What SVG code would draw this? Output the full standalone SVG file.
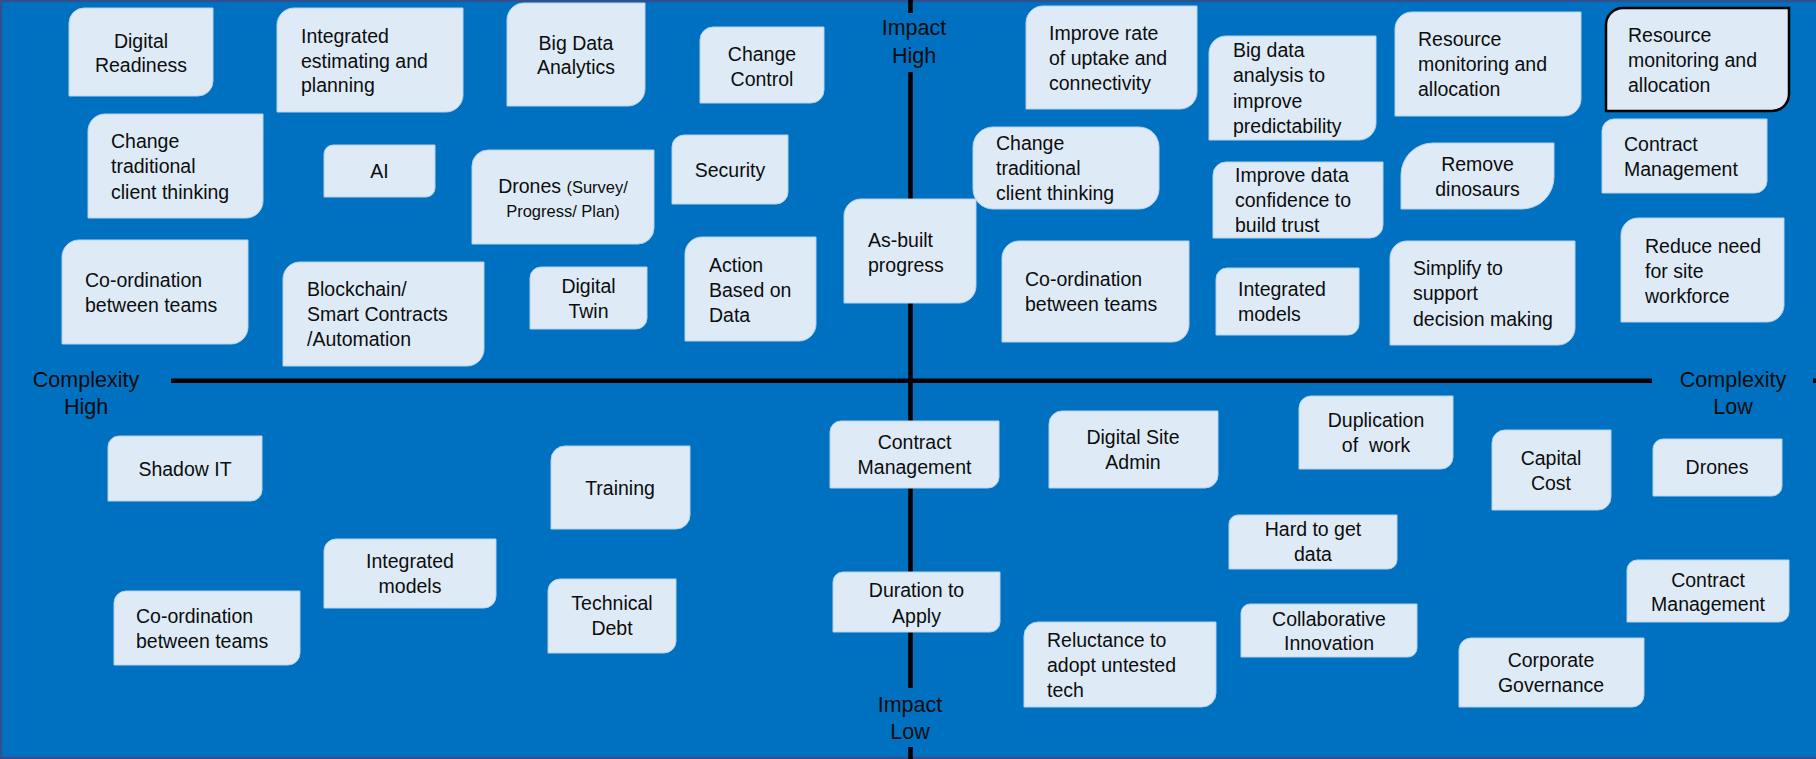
<svg xmlns="http://www.w3.org/2000/svg" width="1816" height="759" viewBox="0 0 1816 759">
  <style>
    .card { fill: #DEEBF7; stroke: #B4D2EE; stroke-width: 1; }
    .card-dark { fill: #DEEBF7; stroke: #000000; stroke-width: 2.5; }
    .t { font-family: "Liberation Sans", Arial, sans-serif; font-size: 19.5px; fill: #0D0D0D; }
    .c { text-anchor: middle; }
    .small { font-size: 16.5px; }
    .axis-label { font-family: "Liberation Sans", Arial, sans-serif; font-size: 21.5px; fill: #0D0D0D; text-anchor: middle; }
    .axis { stroke: #000000; stroke-width: 4.6; fill: none; }
  </style>

  <!-- background panel -->
  <rect x="0" y="0" width="1816" height="759" fill="#0070C0"/>
  <rect x="1" y="1" width="1818" height="757" fill="none" stroke="#2F528F" stroke-width="2.5"/>

  <!-- axes -->
  <g id="connectors">
    <line class="axis" x1="910.5" y1="0" x2="910.5" y2="13"/>
    <line class="axis" x1="910.5" y1="72" x2="910.5" y2="688"/>
    <line class="axis" x1="910.5" y1="747" x2="910.5" y2="759"/>
    <line class="axis" x1="171" y1="380.7" x2="1652" y2="380.7"/>
    <line class="axis" x1="1813" y1="380.7" x2="1816" y2="380.7"/>
  </g>

  <!-- axis labels -->
  <g id="label-impact-high">
    <text class="axis-label" x="914" y="35">Impact</text>
    <text class="axis-label" x="914" y="63">High</text>
  </g>
  <g id="label-impact-low">
    <text class="axis-label" x="910" y="712">Impact</text>
    <text class="axis-label" x="910" y="739">Low</text>
  </g>
  <g id="label-complexity-high">
    <text class="axis-label" x="86" y="387">Complexity</text>
    <text class="axis-label" x="86" y="414">High</text>
  </g>
  <g id="label-complexity-low">
    <text class="axis-label" x="1733" y="387">Complexity</text>
    <text class="axis-label" x="1733" y="414">Low</text>
  </g>

  <!-- cards: rectangles with rounded top-left and bottom-right corners -->
  <g id="n-digital-readiness">
    <path class="card" d="M84,8 H213 V81 A15,15 0 0 1 198,96 H69 V23 A15,15 0 0 1 84,8 Z"/>
    <text class="t c" x="141" y="48">Digital</text>
    <text class="t c" x="141" y="72">Readiness</text>
  </g>
  <g id="n-integrated-estimating">
    <path class="card" d="M294,8 H463 V95 A17,17 0 0 1 446,112 H277 V25 A17,17 0 0 1 294,8 Z"/>
    <text class="t" x="301" y="43">Integrated</text>
    <text class="t" x="301" y="68">estimating and</text>
    <text class="t" x="301" y="92">planning</text>
  </g>
  <g id="n-change-thinking-left">
    <path class="card" d="M105,114 H263 V201 A17,17 0 0 1 246,218 H88 V131 A17,17 0 0 1 105,114 Z"/>
    <text class="t" x="111" y="148">Change</text>
    <text class="t" x="111" y="173">traditional</text>
    <text class="t" x="111" y="199">client thinking</text>
  </g>
  <g id="n-ai">
    <path class="card" d="M333,145 H435 V188 A9,9 0 0 1 426,197 H324 V154 A9,9 0 0 1 333,145 Z"/>
    <text class="t c" x="379.5" y="178">AI</text>
  </g>
  <g id="n-coordination-top-left">
    <path class="card" d="M79,240 H248 V327 A17,17 0 0 1 231,344 H62 V257 A17,17 0 0 1 79,240 Z"/>
    <text class="t" x="85" y="287">Co-ordination</text>
    <text class="t" x="85" y="312">between teams</text>
  </g>
  <g id="n-blockchain">
    <path class="card" d="M300,262 H484 V349 A17,17 0 0 1 467,366 H283 V279 A17,17 0 0 1 300,262 Z"/>
    <text class="t" x="307" y="296">Blockchain/</text>
    <text class="t" x="307" y="321">Smart Contracts</text>
    <text class="t" x="307" y="346">/Automation</text>
  </g>
  <g id="n-big-data-analytics">
    <path class="card" d="M524,3 H645 V89 A17,17 0 0 1 628,106 H507 V20 A17,17 0 0 1 524,3 Z"/>
    <text class="t c" x="576" y="50">Big Data</text>
    <text class="t c" x="576" y="74">Analytics</text>
  </g>
  <g id="n-change-control">
    <path class="card" d="M713,27 H824 V90 A13,13 0 0 1 811,103 H700 V40 A13,13 0 0 1 713,27 Z"/>
    <text class="t c" x="762" y="61">Change</text>
    <text class="t c" x="762" y="86">Control</text>
  </g>
  <g id="n-drones-survey">
    <path class="card" d="M488,150 H654 V228 A16,16 0 0 1 638,244 H472 V166 A16,16 0 0 1 488,150 Z"/>
    <text class="t c" x="563" y="193">Drones <tspan class="small">(Survey/</tspan></text>
    <text class="t c small" x="563" y="217">Progress/ Plan)</text>
  </g>
  <g id="n-security">
    <path class="card" d="M684,135 H788 V192 A12,12 0 0 1 776,204 H672 V147 A12,12 0 0 1 684,135 Z"/>
    <text class="t c" x="730" y="177">Security</text>
  </g>
  <g id="n-digital-twin">
    <path class="card" d="M541,267 H647 V318 A11,11 0 0 1 636,329 H530 V278 A11,11 0 0 1 541,267 Z"/>
    <text class="t c" x="588.5" y="293">Digital</text>
    <text class="t c" x="588.5" y="318">Twin</text>
  </g>
  <g id="n-action-data">
    <path class="card" d="M702,237 H816 V324 A17,17 0 0 1 799,341 H685 V254 A17,17 0 0 1 702,237 Z"/>
    <text class="t" x="709" y="272">Action</text>
    <text class="t" x="709" y="297">Based on</text>
    <text class="t" x="709" y="322">Data</text>
  </g>
  <g id="n-as-built">
    <path class="card" d="M861,199 H976 V286 A17,17 0 0 1 959,303 H844 V216 A17,17 0 0 1 861,199 Z"/>
    <text class="t" x="868" y="247">As-built</text>
    <text class="t" x="868" y="272">progress</text>
  </g>
  <g id="n-improve-rate">
    <path class="card" d="M1043,6 H1197 V92 A17,17 0 0 1 1180,109 H1026 V23 A17,17 0 0 1 1043,6 Z"/>
    <text class="t" x="1049" y="40">Improve rate</text>
    <text class="t" x="1049" y="65">of uptake and</text>
    <text class="t" x="1049" y="90">connectivity</text>
  </g>
  <g id="n-big-data-predictability">
    <path class="card" d="M1226,36 H1376 V123 A17,17 0 0 1 1359,140 H1209 V53 A17,17 0 0 1 1226,36 Z"/>
    <text class="t" x="1233" y="57">Big data</text>
    <text class="t" x="1233" y="82">analysis to</text>
    <text class="t" x="1233" y="108">improve</text>
    <text class="t" x="1233" y="133">predictability</text>
  </g>
  <g id="n-change-thinking-right">
    <rect class="card" x="973" y="127" width="186" height="82" rx="20" ry="20"/>
    <text class="t" x="996" y="150">Change</text>
    <text class="t" x="996" y="175">traditional</text>
    <text class="t" x="996" y="200">client thinking</text>
  </g>
  <g id="n-improve-confidence">
    <path class="card" d="M1226,162 H1383 V225 A13,13 0 0 1 1370,238 H1213 V175 A13,13 0 0 1 1226,162 Z"/>
    <text class="t" x="1235" y="182">Improve data</text>
    <text class="t" x="1235" y="207">confidence to</text>
    <text class="t" x="1235" y="232">build trust</text>
  </g>
  <g id="n-coordination-right">
    <path class="card" d="M1019,241 H1189 V325 A17,17 0 0 1 1172,342 H1002 V258 A17,17 0 0 1 1019,241 Z"/>
    <text class="t" x="1025" y="286">Co-ordination</text>
    <text class="t" x="1025" y="311">between teams</text>
  </g>
  <g id="n-integrated-models-right">
    <path class="card" d="M1227,268 H1359 V324 A11,11 0 0 1 1348,335 H1216 V279 A11,11 0 0 1 1227,268 Z"/>
    <text class="t" x="1238" y="296">Integrated</text>
    <text class="t" x="1238" y="321">models</text>
  </g>
  <g id="n-resource-monitoring-1">
    <path class="card" d="M1412,12 H1581 V99 A17,17 0 0 1 1564,116 H1395 V29 A17,17 0 0 1 1412,12 Z"/>
    <text class="t" x="1418" y="46">Resource</text>
    <text class="t" x="1418" y="71">monitoring and</text>
    <text class="t" x="1418" y="96">allocation</text>
  </g>
  <g id="n-resource-monitoring-2">
    <path class="card-dark" d="M1623,8 H1789 V94 A17,17 0 0 1 1772,111 H1606 V25 A17,17 0 0 1 1623,8 Z"/>
    <text class="t" x="1628" y="42">Resource</text>
    <text class="t" x="1628" y="67">monitoring and</text>
    <text class="t" x="1628" y="92">allocation</text>
  </g>
  <g id="n-remove-dinosaurs">
    <path class="card" d="M1433,143 H1554 V177 A32,32 0 0 1 1522,209 H1401 V175 A32,32 0 0 1 1433,143 Z"/>
    <text class="t c" x="1477.5" y="171">Remove</text>
    <text class="t c" x="1477.5" y="196">dinosaurs</text>
  </g>
  <g id="n-contract-top-right">
    <path class="card" d="M1614,119 H1767 V181 A12,12 0 0 1 1755,193 H1602 V131 A12,12 0 0 1 1614,119 Z"/>
    <text class="t" x="1624" y="151">Contract</text>
    <text class="t" x="1624" y="176">Management</text>
  </g>
  <g id="n-simplify">
    <path class="card" d="M1407,241 H1575 V328 A17,17 0 0 1 1558,345 H1390 V258 A17,17 0 0 1 1407,241 Z"/>
    <text class="t" x="1413" y="275">Simplify to</text>
    <text class="t" x="1413" y="300">support</text>
    <text class="t" x="1413" y="326">decision making</text>
  </g>
  <g id="n-reduce-workforce">
    <path class="card" d="M1638,218 H1784 V305 A17,17 0 0 1 1767,322 H1621 V235 A17,17 0 0 1 1638,218 Z"/>
    <text class="t" x="1645" y="253">Reduce need</text>
    <text class="t" x="1645" y="278">for site</text>
    <text class="t" x="1645" y="303">workforce</text>
  </g>

  <g id="n-shadow-it">
    <path class="card" d="M119,436 H262 V490 A11,11 0 0 1 251,501 H108 V447 A11,11 0 0 1 119,436 Z"/>
    <text class="t c" x="185" y="476">Shadow IT</text>
  </g>
  <g id="n-integrated-models-bottom">
    <path class="card" d="M336,539 H496 V596 A12,12 0 0 1 484,608 H324 V551 A12,12 0 0 1 336,539 Z"/>
    <text class="t c" x="410" y="568">Integrated</text>
    <text class="t c" x="410" y="593">models</text>
  </g>
  <g id="n-coordination-bottom">
    <path class="card" d="M126,591 H300 V653 A12,12 0 0 1 288,665 H114 V603 A12,12 0 0 1 126,591 Z"/>
    <text class="t" x="136" y="623">Co-ordination</text>
    <text class="t" x="136" y="648">between teams</text>
  </g>
  <g id="n-training">
    <path class="card" d="M565,446 H690 V515 A14,14 0 0 1 676,529 H551 V460 A14,14 0 0 1 565,446 Z"/>
    <text class="t c" x="620" y="495">Training</text>
  </g>
  <g id="n-technical-debt">
    <path class="card" d="M560,579 H676 V641 A12,12 0 0 1 664,653 H548 V591 A12,12 0 0 1 560,579 Z"/>
    <text class="t c" x="612" y="610">Technical</text>
    <text class="t c" x="612" y="635">Debt</text>
  </g>
  <g id="n-contract-center">
    <path class="card" d="M841,421 H999 V477 A11,11 0 0 1 988,488 H830 V432 A11,11 0 0 1 841,421 Z"/>
    <text class="t c" x="914.5" y="449">Contract</text>
    <text class="t c" x="914.5" y="474">Management</text>
  </g>
  <g id="n-duration">
    <path class="card" d="M843,572 H1000 V622 A10,10 0 0 1 990,632 H833 V582 A10,10 0 0 1 843,572 Z"/>
    <text class="t c" x="916.5" y="597">Duration to</text>
    <text class="t c" x="916.5" y="623">Apply</text>
  </g>
  <g id="n-digital-site-admin">
    <path class="card" d="M1062,411 H1218 V475 A13,13 0 0 1 1205,488 H1049 V424 A13,13 0 0 1 1062,411 Z"/>
    <text class="t c" x="1133" y="444">Digital Site</text>
    <text class="t c" x="1133" y="469">Admin</text>
  </g>
  <g id="n-duplication">
    <path class="card" d="M1311,396 H1453 V457 A12,12 0 0 1 1441,469 H1299 V408 A12,12 0 0 1 1311,396 Z"/>
    <text class="t c" x="1376" y="427">Duplication</text>
    <text class="t c" x="1376" y="452" style="white-space: pre">of  work</text>
  </g>
  <g id="n-hard-data">
    <path class="card" d="M1238,515 H1397 V560 A9,9 0 0 1 1388,569 H1229 V524 A9,9 0 0 1 1238,515 Z"/>
    <text class="t c" x="1313" y="536">Hard to get</text>
    <text class="t c" x="1313" y="561">data</text>
  </g>
  <g id="n-collaborative">
    <path class="card" d="M1250,604 H1417 V648 A9,9 0 0 1 1408,657 H1241 V613 A9,9 0 0 1 1250,604 Z"/>
    <text class="t c" x="1329" y="626">Collaborative</text>
    <text class="t c" x="1329" y="650">Innovation</text>
  </g>
  <g id="n-reluctance">
    <path class="card" d="M1038,622 H1216 V693 A14,14 0 0 1 1202,707 H1024 V636 A14,14 0 0 1 1038,622 Z"/>
    <text class="t" x="1047" y="647">Reluctance to</text>
    <text class="t" x="1047" y="672">adopt untested</text>
    <text class="t" x="1047" y="697">tech</text>
  </g>
  <g id="n-capital-cost">
    <path class="card" d="M1505,430 H1611 V497 A13,13 0 0 1 1598,510 H1492 V443 A13,13 0 0 1 1505,430 Z"/>
    <text class="t c" x="1551" y="465">Capital</text>
    <text class="t c" x="1551" y="490">Cost</text>
  </g>
  <g id="n-drones">
    <path class="card" d="M1663,439 H1782 V486 A10,10 0 0 1 1772,496 H1653 V449 A10,10 0 0 1 1663,439 Z"/>
    <text class="t c" x="1717" y="474">Drones</text>
  </g>
  <g id="n-contract-bottom-right">
    <path class="card" d="M1637,560 H1789 V612 A10,10 0 0 1 1779,622 H1627 V570 A10,10 0 0 1 1637,560 Z"/>
    <text class="t c" x="1708" y="587">Contract</text>
    <text class="t c" x="1708" y="611">Management</text>
  </g>
  <g id="n-corporate-governance">
    <path class="card" d="M1471,638 H1644 V695 A12,12 0 0 1 1632,707 H1459 V650 A12,12 0 0 1 1471,638 Z"/>
    <text class="t c" x="1551" y="667">Corporate</text>
    <text class="t c" x="1551" y="692">Governance</text>
  </g>
</svg>
